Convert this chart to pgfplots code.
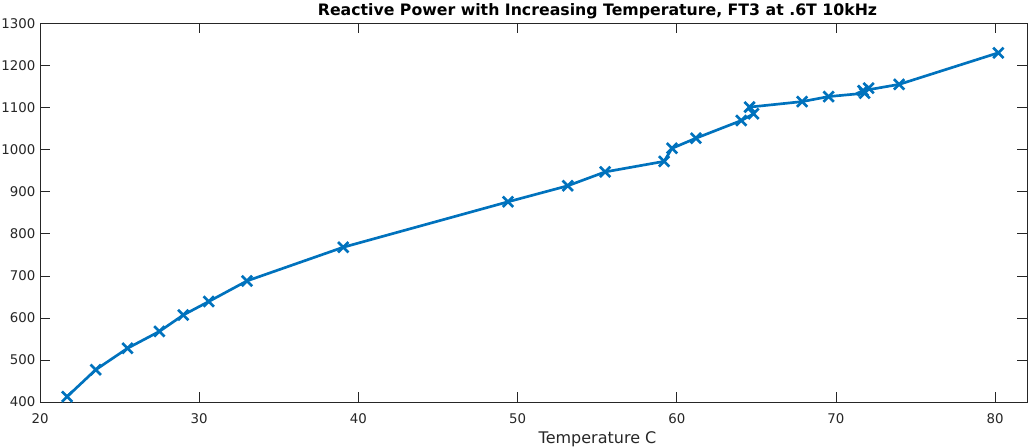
\documentclass[border=0pt]{standalone}
\usepackage{pgfplots}
\pgfplotsset{compat=1.18}
\usepackage{fontspec}
\setmainfont{DejaVu Sans}
\definecolor{mblue}{rgb}{0,0.447,0.741}
\definecolor{axgray}{rgb}{0.15,0.15,0.15}
\begin{document}
\begin{tikzpicture}
\begin{axis}[
  scale only axis,
  width=740pt, height=284pt,
  xmin=20, xmax=82, ymin=400, ymax=1300,
  xtick={20,30,...,80},
  ytick={400,500,...,1300},
  tick align=inside,
  xtick pos=both, ytick pos=both,
  major tick length=7.5pt,
  axis line style={axgray, line width=0.5pt},
  every tick/.style={axgray, line width=0.5pt},
  tick label style={font=\fontsize{10}{12}\selectfont, text=axgray},
  xticklabel style={yshift=-5pt},
  /pgf/number format/assume math mode=true,
  /pgf/number format/1000 sep={},
  xlabel={Temperature C},
  xlabel style={font=\fontsize{12}{14}\selectfont, text=axgray, yshift=1pt, xshift=48pt},
  title={\textbf{Reactive Power with Increasing Temperature, FT3 at .6T 10kHz}},
  title style={font=\fontsize{11.8}{14}\selectfont, yshift=-6pt, xshift=48pt},
  clip=false,
]
\addplot[color=mblue, line width=2pt, mark=x, mark size=5.5pt,
  mark options={line width=2pt}] coordinates {
(21.7,413)
(23.5,477)
(25.5,528)
(27.5,568)
(29.0,607)
(30.6,639)
(33.0,688)
(39.05,768)
(49.4,876)
(53.15,914)
(55.5,947)
(59.2,972)
(59.7,1003)
(61.2,1027)
(64.05,1069)
(64.82,1085)
(64.57,1101)
(67.87,1114)
(69.54,1126)
(71.8,1134)
(72.05,1146)
(71.7,1140)
(73.97,1155)
(80.2,1230)
};
\end{axis}
\pgfresetboundingbox
\path[use as bounding box] ([xshift=-30pt,yshift=-34.3pt]current axis.south west) rectangle ([xshift=4.5pt,yshift=17.5pt]current axis.north east);
\end{tikzpicture}
\end{document}
